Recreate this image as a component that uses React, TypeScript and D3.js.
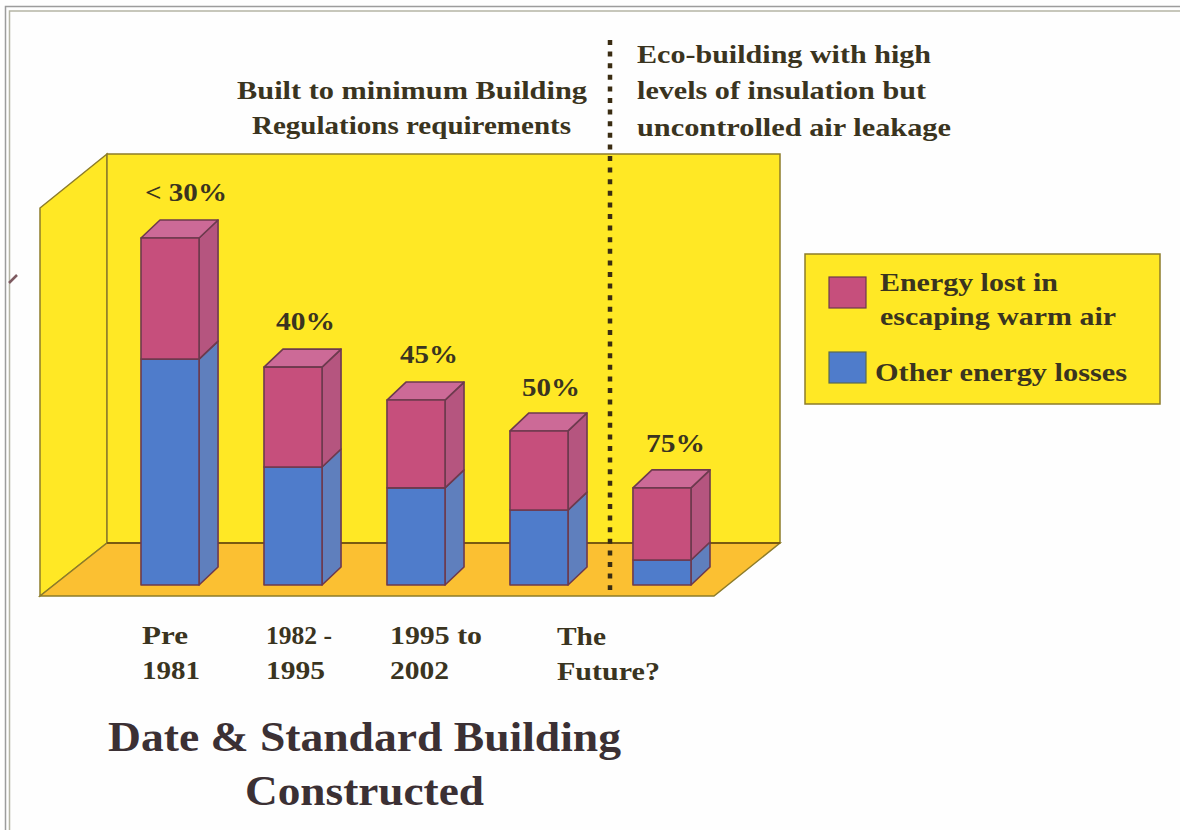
import React from "react";
import * as d3 from "d3";

const categories = ["Pre 1981", "1982 - 1995", "1995 to 2002", "The Future?", "Eco"];
const otherLosses = [65.1, 34.0, 28.0, 21.6, 7.2];
const airLosses = [34.9, 28.8, 25.3, 22.8, 20.8];
const percentLabels = ["< 30%", "40%", "45%", "50%", "75%"];

const FONT = "'Liberation Serif', serif";
const INK = "#3a3420";
const TITLE_INK = "#3b3034";
const MAGENTA = "#c64f7c";
const MAGENTA_SIDE = "#b5557f";
const MAGENTA_TOP = "#cc6a97";
const BLUE = "#4f7ccb";
const BLUE_SIDE = "#5f7fbd";
const EDGE = "#6d3a4e";
const WALL = "#ffe825";
const FLOOR = "#fbc032";
const WALL_EDGE = "#8d7c2a";

type Line = [string, number, number, number];
// text, left, baseline, rendered width
const percentLines: number[][] = [[145, 201, 82], [276, 330, 59], [400, 363, 58], [522, 396, 58], [646, 452, 59]];
const headerLines: Line[] = [
  ["Built to minimum Building", 237, 99, 350],
  ["Regulations requirements", 252, 134, 319],
  ["Eco-building with high", 637, 63, 294],
  ["levels of insulation but", 637, 99, 289],
  ["uncontrolled air leakage", 637, 136, 314],
];
const axisLines: Line[] = [
  ["Pre", 142, 644, 46],
  ["1981", 142, 679, 58],
  ["1982 -", 266, 644, 66],
  ["1995", 266, 679, 59],
  ["1995 to", 390, 644, 92],
  ["2002", 390, 679, 59],
  ["The", 557, 645, 49],
  ["Future?", 557, 680, 103],
];
const titleLines: Line[] = [
  ["Date & Standard Building", 108, 751, 513],
  ["Constructed", 245, 805, 239],
];
const legendLines: Line[] = [
  ["Energy lost in", 880, 291, 178],
  ["escaping warm air", 880, 325, 236],
  ["Other energy losses", 875, 381, 252],
];

const x = d3.scaleBand<string>().domain(categories).range([141, 691]).paddingInner(0.528).paddingOuter(0);
const y = d3.scaleLinear().domain([0, 100]).range([585, 238]);
const DX = 19;
const DY = 18;

const poly = (pts: [number, number][]) => (d3.line()(pts) ?? "") + "Z";

function Bar({ i }: { i: number }) {
  const c = categories[i];
  const x0 = x(c)!;
  const x1 = x0 + x.bandwidth();
  const yBase = y(0);
  const ySplit = y(otherLosses[i]);
  const yTop = y(otherLosses[i] + airLosses[i]);
  return (
    <g stroke={EDGE} strokeWidth={1.6} strokeLinejoin="round">
      <path d={poly([[x1, yBase], [x1 + DX, yBase - DY], [x1 + DX, ySplit - DY], [x1, ySplit]])} fill={BLUE_SIDE} />
      <path d={poly([[x1, ySplit], [x1 + DX, ySplit - DY], [x1 + DX, yTop - DY], [x1, yTop]])} fill={MAGENTA_SIDE} />
      <path d={poly([[x0, yTop], [x0 + DX, yTop - DY], [x1 + DX, yTop - DY], [x1, yTop]])} fill={MAGENTA_TOP} />
      <rect x={x0} y={ySplit} width={x1 - x0} height={yBase - ySplit} fill={BLUE} />
      <rect x={x0} y={yTop} width={x1 - x0} height={ySplit - yTop} fill={MAGENTA} />
    </g>
  );
}

function Lines({ rows, size, fill = INK }: { rows: Line[]; size: number; fill?: string }) {
  return (
    <g fontFamily={FONT} fontWeight={700} fontSize={size} fill={fill}>
      {rows.map(([t, lx, ly, w]) => (
        <text key={t} x={lx} y={ly} textLength={w} lengthAdjust="spacingAndGlyphs" style={{ whiteSpace: "pre" }}>{t}</text>
      ))}
    </g>
  );
}

export default function App() {
  return (
    <svg width={1180} height={830} viewBox="0 0 1180 830" style={{ position: "absolute", left: 0, top: 0, background: "#fefefe" }}>
      <path d="M5.5 830V6.5H1180" fill="none" stroke="#9c9c9c" strokeWidth={1.5} />
      <path d="M9.5 830V11H1180" fill="none" stroke="#b5b5a5" strokeWidth={1.5} />
      <path d="M9 283L17 275" stroke="#7d5a60" strokeWidth={2.5} />

      <path d={poly([[40, 208], [107, 154], [107, 543], [40, 596]])} fill={WALL} stroke={WALL_EDGE} strokeWidth={1.5} />
      <rect x={107} y={154} width={673} height={389} fill={WALL} stroke={WALL_EDGE} strokeWidth={1.5} />
      <path d={poly([[40, 596], [107, 543], [780, 543], [714, 596]])} fill={FLOOR} stroke={WALL_EDGE} strokeWidth={1.5} />
      <path d="M107 543H780" stroke="#7a5a10" strokeWidth={2} />

      <line x1={610} y1={40} x2={610} y2={590} stroke="#3a2c12" strokeWidth={4.5} strokeDasharray="5 6.6" />

      {categories.map((_, i) => <Bar key={i} i={i} />)}

      <Lines
        size={26}
        rows={percentLabels.map((t, i) => [t, percentLines[i][0], percentLines[i][1], percentLines[i][2]] as Line)}
      />
      <Lines rows={headerLines} size={26} />
      <Lines rows={axisLines} size={26} />
      <Lines rows={titleLines} size={42} fill={TITLE_INK} />

      <rect x={805} y={254} width={355} height={150} fill={WALL} stroke={WALL_EDGE} strokeWidth={1.5} />
      <rect x={829} y={277} width={37} height={31} fill={MAGENTA} stroke={EDGE} strokeWidth={1.2} />
      <rect x={829} y={352} width={37} height={31} fill={BLUE} stroke="#5a6a50" strokeWidth={1.2} />
      <Lines rows={legendLines} size={26} />
    </svg>
  );
}
